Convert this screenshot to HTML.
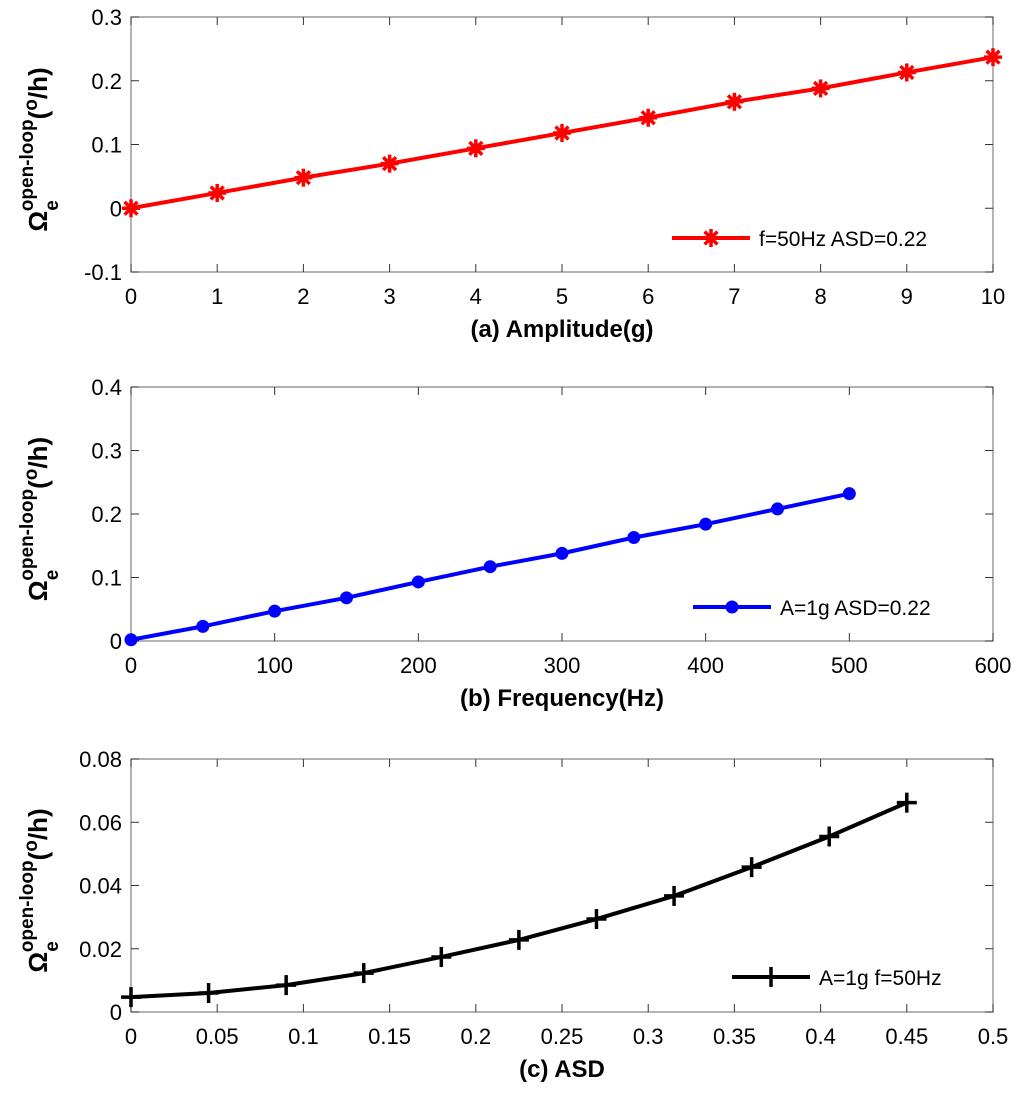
<!DOCTYPE html>
<html><head><meta charset="utf-8"><style>
body{margin:0;background:#fff}
svg{display:block;font-family:"Liberation Sans",Arial,sans-serif}
</style></head><body>
<svg id="s" width="1024" height="1103" viewBox="0 0 1024 1103"></svg>
<script>
const ampX=[0,1,2,3,4,5,6,7,8,9,10];
const ampY=[0,0.024,0.048,0.070,0.094,0.118,0.142,0.167,0.188,0.213,0.237];
const freqX=[0,50,100,150,200,250,300,350,400,450,500];
const freqY=[0.002,0.023,0.047,0.068,0.093,0.117,0.138,0.163,0.184,0.208,0.232];
const asdX=[0,0.045,0.09,0.135,0.18,0.225,0.27,0.315,0.36,0.405,0.45];
const asdY=[0.0047,0.006,0.0085,0.0123,0.0174,0.0228,0.0294,0.0367,0.0458,0.0555,0.0662];
const aXT=["0","1","2","3","4","5","6","7","8","9","10"];
const aYT=["-0.1","0","0.1","0.2","0.3"];
const bXT=["0","100","200","300","400","500","600"];
const bYT=["0","0.1","0.2","0.3","0.4"];
const cXT=["0","0.05","0.1","0.15","0.2","0.25","0.3","0.35","0.4","0.45","0.5"];
const cYT=["0","0.02","0.04","0.06","0.08"];
const NS="http://www.w3.org/2000/svg";
const svg=document.getElementById('s');
function mk(t,a,p){const e=document.createElementNS(NS,t);for(const k in a)e.setAttribute(k,a[k]);(p||svg).appendChild(e);return e;}
function panel(o){
 const g=mk('g',{});
 
 
 const L=131,R=993,T=o.top,B=o.bot;
 const sx=v=>L+(v-o.xmin)/(o.xmax-o.xmin)*(R-L);
 const sy=v=>B-(v-o.ymin)/(o.ymax-o.ymin)*(B-T);
 mk('rect',{x:L,y:T,width:R-L,height:B-T,fill:'none',stroke:'#808080','stroke-width':1.2},g);
 o.xt.forEach(t=>{const x=sx(parseFloat(t));
  mk('line',{x1:x,x2:x,y1:B,y2:B-8,stroke:'#333'},g);mk('line',{x1:x,x2:x,y1:T,y2:T+8,stroke:'#333'},g);
  const tx=mk('text',{x:x,y:B+32,'text-anchor':'middle','font-size':22},g);tx.textContent=t;
  });
 o.yt.forEach(t=>{const y=sy(parseFloat(t));
  mk('line',{x1:L,x2:L+8,y1:y,y2:y,stroke:'#333'},g);mk('line',{x1:R,x2:R-8,y1:y,y2:y,stroke:'#333'},g);
  const tx=mk('text',{x:L-9,y:y+8,'text-anchor':'end','font-size':22},g);tx.textContent=t;
  });
 const pts=o.x.map((v,i)=>sx(v)+','+sy(o.y[i])).join(' ');
 const pl=mk('polyline',{points:pts,fill:'none',stroke:o.col,'stroke-width':4},g);
 
 o.x.forEach((v,i)=>{const m=o.mark(sx(v),sy(o.y[i]),g);});
 const xl=mk('text',{x:562,y:B+65,'text-anchor':'middle','font-size':24,'font-weight':'bold'},g);xl.textContent=o.xlabel;
 
 const cy=(T+B)/2+5;
 const yl=mk('text',{transform:`translate(47,${cy}) rotate(-90)`,'text-anchor':'middle','font-size':26,'font-weight':'bold'},g);
 yl.innerHTML='Ω<tspan font-size="19" dy="11">e</tspan><tspan font-size="19" dy="-25" dx="-11">open-loop</tspan><tspan dy="14">(</tspan><tspan font-size="19" dy="-10">o</tspan><tspan dy="10">/h)</tspan>';
 
 const lg=mk('g',{},g);
 
 mk('line',{x1:o.lx,x2:o.lx+78,y1:o.ly,y2:o.ly,stroke:o.col,'stroke-width':4},lg);
 o.mark(o.lx+39,o.ly,lg);
 const lt=mk('text',{x:o.lx+87,y:o.ly+8,'font-size':21},lg);lt.textContent=o.leg;
}
const star=(x,y,p)=>{const g=mk('g',{stroke:'#f00','stroke-width':3.5},p);
 [[9,0],[0,9],[6.4,6.4],[6.4,-6.4]].forEach(d=>mk('line',{x1:x-d[0],y1:y-d[1],x2:x+d[0],y2:y+d[1]},g));
 mk('circle',{cx:x,cy:y,r:5,fill:'#f00',stroke:'none'},g);return g;};
const dot=(x,y,p)=>mk('circle',{cx:x,cy:y,r:6.5,fill:'#00f'},p);
const plus=(x,y,p)=>{const g=mk('g',{stroke:'#000','stroke-width':3.5},p);
 mk('line',{x1:x-10,x2:x+10,y1:y,y2:y},g);mk('line',{x1:x,x2:x,y1:y-10,y2:y+10},g);return g;};
panel({name:'panel-a-amplitude',top:17,bot:272,xmin:0,xmax:10,ymin:-0.1,ymax:0.3,xt:aXT,yt:aYT,x:ampX,y:ampY,col:'#f00',mark:star,xlabel:'(a) Amplitude(g)',leg:'f=50Hz ASD=0.22',lx:672,ly:238});
panel({name:'panel-b-frequency',top:387,bot:641,xmin:0,xmax:600,ymin:0,ymax:0.4,xt:bXT,yt:bYT,x:freqX,y:freqY,col:'#00f',mark:dot,xlabel:'(b) Frequency(Hz)',leg:'A=1g ASD=0.22',lx:693,ly:607});
panel({name:'panel-c-asd',top:759,bot:1012,xmin:0,xmax:0.5,ymin:0,ymax:0.08,xt:cXT,yt:cYT,x:asdX,y:asdY,col:'#000',mark:plus,xlabel:'(c) ASD',leg:'A=1g f=50Hz',lx:732,ly:977});
</script>
</body></html>
